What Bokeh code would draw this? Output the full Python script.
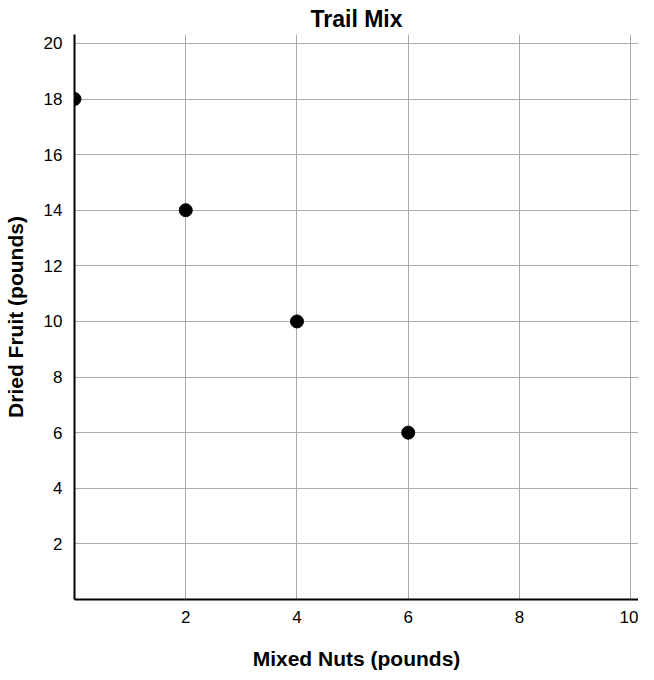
from bokeh.plotting import figure
from bokeh.models import FixedTicker, Range1d
from bokeh.embed import file_html
from bokeh.resources import INLINE

nuts = [0, 2, 4, 6]
fruit = [18, 14, 10, 6]
x_ticks = [2, 4, 6, 8, 10]
y_ticks = [2, 4, 6, 8, 10, 12, 14, 16, 18, 20]

FONT = "Liberation Sans"

p = figure(width=638, height=672, output_backend="svg", toolbar_location=None,
           x_range=Range1d(0, 10.14), y_range=Range1d(0, 20.32),
           title="Trail Mix", min_border_left=66, min_border_right=0,
           min_border_top=27, min_border_bottom=71)
p.title.align = "center"
p.title.text_font = FONT
p.title.text_font_size = "23px"
p.title.text_font_style = "bold"
p.title.text_color = "black"
p.title.standoff = 6
p.outline_line_color = None

p.scatter(nuts, fruit, size=13, color="black")

for ax, ticks, label in ((p.xaxis, x_ticks, "Mixed Nuts (pounds)"),
                         (p.yaxis, y_ticks, "Dried Fruit (pounds)")):
    ax.ticker = FixedTicker(ticks=ticks)
    ax.axis_label = label
    ax.axis_label_text_font = FONT
    ax.axis_label_text_font_size = "21px"
    ax.axis_label_text_font_style = "bold"
    ax.axis_label_text_color = "black"
    ax.major_label_text_font = FONT
    ax.major_label_text_font_size = "17px"
    ax.major_label_text_color = "black"
    ax.major_tick_line_color = None
    ax.minor_tick_line_color = None
    ax.axis_line_color = "black"
    ax.axis_line_width = 2

p.xaxis.major_label_standoff = 5
p.xaxis.axis_label_standoff = 21
p.yaxis.major_label_standoff = 6
p.yaxis.axis_label_standoff = 14

p.xgrid.ticker = FixedTicker(ticks=x_ticks)
p.ygrid.ticker = FixedTicker(ticks=y_ticks)
for g in (p.xgrid, p.ygrid):
    g.grid_line_color = "#aaaaaa"
    g.grid_line_width = 1
    g.grid_line_alpha = 1

open("out.html", "w").write(file_html(p, INLINE))
